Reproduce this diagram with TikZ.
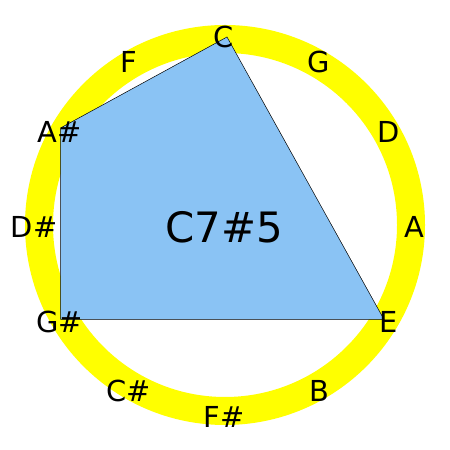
\documentclass[tikz,border=0pt]{standalone}
\usepackage{fontspec}
\setmainfont{DejaVu Sans}
\definecolor{ringyellow}{RGB}{255,255,0}
\definecolor{chordblue}{RGB}{138,195,244}
\begin{document}
\begin{tikzpicture}[x=1bp,y=1bp,
  note/.style={inner sep=0pt, font=\fontsize{29}{31}\selectfont},
  ring/.style={draw=ringyellow, line width=28bp},
  chord/.style={fill=chordblue, draw=black, line width=0.5bp, line join=miter},
  chordname/.style={inner sep=0pt, font=\fontsize{42}{46}\selectfont}]
\useasboundingbox[fill=white] (0,0) rectangle (450,450);
\draw[ring] (225,225) circle[radius=186];
\coordinate (vC) at (227,413);
\coordinate (vAs) at (60.5,322);
\coordinate (vGs) at (60.5,130.5);
\coordinate (vE) at (384,130.5);
\draw[chord] (vC) -- (vAs) -- (vGs) -- (vE) -- cycle;
\node[chordname] (name) at (224.5,222.5) {C7\#5};
\foreach \n/\a/\lab in {C/90/C, G/60/G, D/30/D, A/0/A, E/-30/E, B/-60/B,
  Fs/-90/F\#, Cs/-120/C\#, Gs/-150/G\#, Ds/180/D\#, As/150/A\#, F/120/F}
  \node[note] (\n) at ({224+190*cos(\a)},{223.5+190*sin(\a)}) {\lab};
\end{tikzpicture}
\end{document}
